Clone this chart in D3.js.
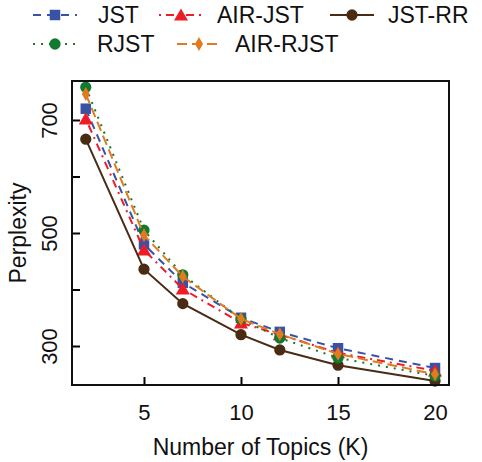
<!DOCTYPE html>
<html>
<head>
<meta charset="utf-8">
<script src="https://cdn.jsdelivr.net/npm/d3@7/dist/d3.min.js"></script>
<style>
  html, body { margin: 0; padding: 0; background: #fff; }
  svg { display: block; font-family: "Liberation Sans", Arial, sans-serif; }
</style>
</head>
<body>
<svg id="chart" width="482" height="462"></svg>
<script>
// Number of topics K
const topics = [2, 5, 7, 10, 12, 15, 20];

// Perplexity per model
const jst      = [720, 480, 412, 350, 325, 296, 261];
const airJst   = [702, 470, 401, 341, 320, 288, 256];
const jstRR    = [666, 436, 375, 320, 293, 266, 238];
const rjst     = [758, 505, 426, 348, 314, 279, 247];
const airRjst  = [746, 496, 423, 348, 321, 286, 250];

const seriesNames = ["JST", "AIR-JST", "JST-RR", "RJST", "AIR-RJST"];
const seriesValues = [jst, airJst, jstRR, rjst, airRjst];

const xTicks = [5, 10, 15, 20];
const yTicks = [300, 400, 500, 600, 700];
const yTickLabels = ["300", "", "500", "", "700"];

const xTitle = "Number of Topics (K)";
const yTitle = "Perplexity";

// Styling per series
const styles = {
  "JST":      { color: "#3852a8", dash: "8,6",       marker: "square" },
  "AIR-JST":  { color: "#ee1c25", dash: "2,5,8,5",   marker: "triangle" },
  "JST-RR":   { color: "#4a2c14", dash: null,        marker: "circle" },
  "RJST":     { color: "#127a30", dash: "2,6",       marker: "circle" },
  "AIR-RJST": { color: "#e07b20", dash: "10,5",      marker: "diamond" }
};

// Legend layout: row, line start, text start
const legendLayout = {
  "JST":      { row: 0, x0: 33,  tx: 98 },
  "AIR-JST":  { row: 0, x0: 159, tx: 217 },
  "JST-RR":   { row: 0, x0: 330, tx: 388 },
  "RJST":     { row: 1, x0: 33,  tx: 97 },
  "AIR-RJST": { row: 1, x0: 177, tx: 235 }
};
const legendRowY = [15, 44];

const W = 482, H = 462;
const margin = { top: 81, right: 33, bottom: 77, left: 72 };
const iw = W - margin.left - margin.right;
const ih = H - margin.top - margin.bottom;

const svg = d3.select("#chart");
const g = svg.append("g").attr("transform", `translate(${margin.left},${margin.top})`);

const x = d3.scaleLinear().domain([1.29, 20.72]).range([0, iw]);
const y = d3.scaleLinear().domain([231, 769]).range([ih, 0]);

// Axes with inward ticks
const xAxis = g.append("g")
  .attr("transform", `translate(0,${ih})`)
  .call(d3.axisBottom(x).tickValues(xTicks).tickSizeInner(-8).tickSizeOuter(0).tickPadding(0));
xAxis.select(".domain").remove();
xAxis.selectAll(".tick line").attr("stroke", "#000").attr("stroke-width", 2);
xAxis.selectAll(".tick text").remove();
xAxis.selectAll(".tick").append("text")
  .attr("y", 420 - margin.top - ih)
  .attr("text-anchor", "middle")
  .attr("fill", "#111")
  .style("font-size", "22px")
  .text(d => d);

const yAxis = g.append("g")
  .call(d3.axisLeft(y).tickValues(yTicks).tickSizeInner(-8).tickSizeOuter(0));
yAxis.select(".domain").remove();
yAxis.selectAll(".tick line").attr("stroke", "#000").attr("stroke-width", 2);
yAxis.selectAll(".tick text").remove();
yAxis.selectAll(".tick").append("text")
  .attr("transform", `translate(${57 - margin.left},0) rotate(-90)`)
  .attr("text-anchor", "middle")
  .attr("fill", "#111")
  .style("font-size", "22px")
  .text((d, i) => yTickLabels[i]);

// Marker shapes
function symbolFor(kind) {
  switch (kind) {
    case "square":   return d3.symbol().type(d3.symbolSquare).size(110)();
    case "triangle": return d3.symbol().type(d3.symbolTriangle).size(85)();
    case "diamond":  return d3.symbol().type(d3.symbolDiamond).size(55)();
    default:         return d3.symbol().type(d3.symbolCircle).size(100)();
  }
}

const line = d3.line().x(d => x(d[0])).y(d => y(d[1]));

seriesNames.forEach((name, si) => {
  const st = styles[name];
  const pts = topics.map((k, i) => [k, seriesValues[si][i]]);
  g.append("path")
    .datum(pts)
    .attr("fill", "none")
    .attr("stroke", st.color)
    .attr("stroke-width", 2)
    .attr("stroke-dasharray", st.dash)
    .attr("d", line);
  g.selectAll(null).data(pts).enter().append("path")
    .attr("transform", d => `translate(${x(d[0])},${y(d[1]) + (st.marker === "triangle" ? 1.5 : 0)})`)
    .attr("d", symbolFor(st.marker))
    .attr("fill", st.color);
});

// Plot frame
g.append("rect")
  .attr("width", iw).attr("height", ih)
  .attr("fill", "none").attr("stroke", "#111").attr("stroke-width", 2);

// Axis titles
svg.append("text")
  .attr("x", margin.left + iw / 2).attr("y", 455)
  .attr("text-anchor", "middle").attr("fill", "#111")
  .style("font-size", "23px").text(xTitle);
svg.append("text")
  .attr("transform", `translate(26,${margin.top + ih / 2}) rotate(-90)`)
  .attr("text-anchor", "middle").attr("fill", "#111")
  .style("font-size", "23px").text(yTitle);

// Legend
const legend = svg.append("g");
seriesNames.forEach(name => {
  const st = styles[name];
  const L = legendLayout[name];
  const ly = legendRowY[L.row];
  const item = legend.append("g");
  item.append("line")
    .attr("x1", L.x0).attr("x2", L.x0 + 44)
    .attr("y1", ly).attr("y2", ly)
    .attr("stroke", st.color).attr("stroke-width", 2)
    .attr("stroke-dasharray", st.dash);
  item.append("path")
    .attr("transform", `translate(${L.x0 + 22},${ly + (st.marker === "triangle" ? 1.5 : 0)})`)
    .attr("d", symbolFor(st.marker))
    .attr("fill", st.color);
  item.append("text")
    .attr("x", L.tx).attr("y", ly + 8)
    .attr("fill", "#111")
    .style("font-size", "23px")
    .text(name);
});
</script>
</body>
</html>
